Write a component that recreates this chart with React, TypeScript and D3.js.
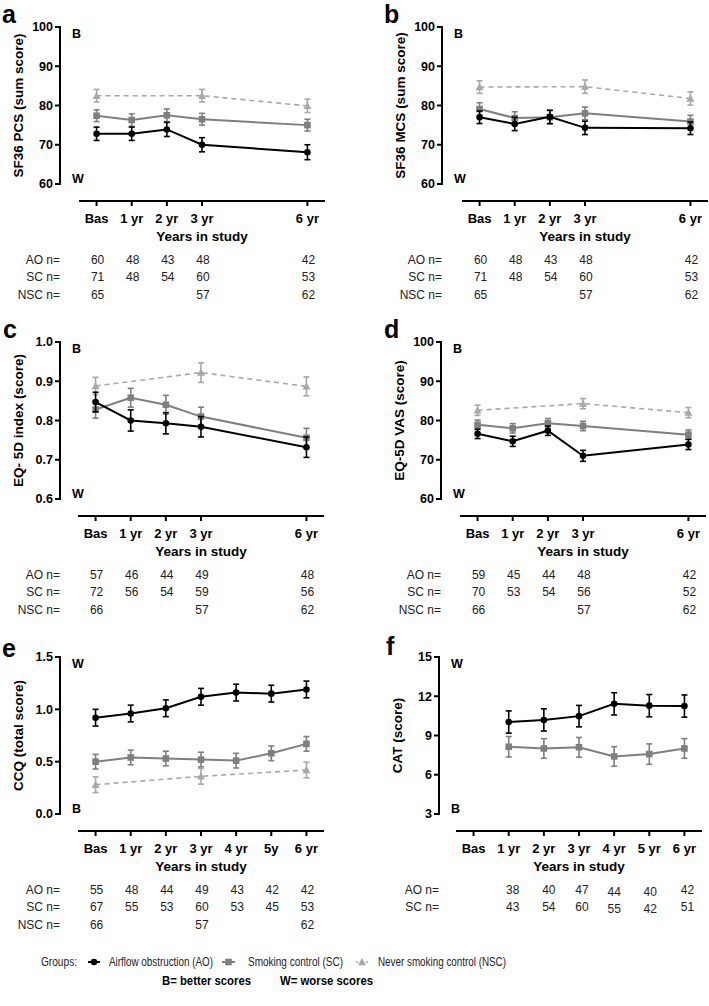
import React from "react";
import * as d3 from "d3";

// ---------- shared categories ----------
const groupNames = ["Airflow obstruction (AO)", "Smoking control (SC)", "Never smoking control (NSC)"];
const groupShort = ["AO", "SC", "NSC"];
const xLabels5 = ["Bas", "1 yr", "2 yr", "3 yr", "6 yr"];
const xYears5 = [0, 1, 2, 3, 6];
const xLabelsCCQ = ["Bas", "1 yr", "2 yr", "3 yr", "4 yr", "5y", "6 yr"];
const xLabelsCAT = ["Bas", "1 yr", "2 yr", "3 yr", "4 yr", "5 yr", "6 yr"];
const xYears7 = [0, 1, 2, 3, 4, 5, 6];
const nscYears = [0, 3, 6];
const catYears = [1, 2, 3, 4, 5, 6];

// ---------- a: SF36 PCS ----------
const pcsAO = [72.8, 72.8, 73.9, 70.0, 68.1];
const pcsAOErr = [1.7, 1.7, 1.8, 1.8, 1.9];
const pcsSC = [77.4, 76.3, 77.5, 76.5, 75.0];
const pcsSCErr = [1.5, 1.6, 1.6, 1.5, 1.5];
const pcsNSC = [82.5, 82.5, 79.9];
const pcsNSCErr = [1.6, 1.6, 1.7];
const pcsTicks = [60, 70, 80, 90, 100];
const pcsNAO = [60, 48, 43, 48, 42];
const pcsNSCn = [71, 48, 54, 60, 53];
const pcsNNSC = [65, 57, 62];

// ---------- b: SF36 MCS ----------
const mcsAO = [77.0, 75.3, 77.1, 74.3, 74.2];
const mcsAOErr = [1.6, 1.7, 1.7, 1.7, 1.6];
const mcsSC = [79.1, 76.8, 77.0, 78.0, 75.9];
const mcsSCErr = [1.6, 1.6, 1.7, 1.6, 1.6];
const mcsNSC = [84.7, 84.8, 81.8];
const mcsNSCErr = [1.6, 1.7, 1.7];
const mcsTicks = [60, 70, 80, 90, 100];
const mcsNAO = [60, 48, 43, 48, 42];
const mcsNSCn = [71, 48, 54, 60, 53];
const mcsNNSC = [65, 57, 62];

// ---------- c: EQ-5D index ----------
const eqiAO = [0.847, 0.8, 0.793, 0.784, 0.732];
const eqiAOErr = [0.025, 0.027, 0.027, 0.026, 0.026];
const eqiSC = [0.828, 0.858, 0.84, 0.81, 0.756];
const eqiSCErr = [0.022, 0.024, 0.024, 0.024, 0.024];
const eqiNSC = [0.888, 0.922, 0.887];
const eqiNSCErr = [0.022, 0.025, 0.024];
const eqiTicks = [0.6, 0.7, 0.8, 0.9, 1.0];
const eqiNAO = [57, 46, 44, 49, 48];
const eqiNSCn = [72, 56, 54, 59, 56];
const eqiNNSC = [66, 57, 62];

// ---------- d: EQ-5D VAS ----------
const vasAO = [76.6, 74.7, 77.4, 71.0, 73.9];
const vasAOErr = [1.2, 1.3, 1.2, 1.4, 1.3];
const vasSC = [78.9, 78.0, 79.3, 78.6, 76.4];
const vasSCErr = [1.2, 1.2, 1.2, 1.2, 1.2];
const vasNSC = [82.6, 84.3, 82.0];
const vasNSCErr = [1.3, 1.3, 1.3];
const vasTicks = [60, 70, 80, 90, 100];
const vasNAO = [59, 45, 44, 48, 42];
const vasNSCn = [70, 53, 54, 56, 52];
const vasNNSC = [66, 57, 62];

// ---------- e: CCQ ----------
const ccqAO = [0.92, 0.96, 1.01, 1.12, 1.16, 1.15, 1.19];
const ccqAOErr = [0.08, 0.08, 0.08, 0.08, 0.08, 0.08, 0.08];
const ccqSC = [0.5, 0.54, 0.53, 0.52, 0.51, 0.58, 0.67];
const ccqSCErr = [0.07, 0.07, 0.07, 0.07, 0.07, 0.07, 0.07];
const ccqNSC = [0.28, 0.36, 0.42];
const ccqNSCErr = [0.075, 0.075, 0.075];
const ccqTicks = [0.0, 0.5, 1.0, 1.5];
const ccqNAO = [55, 48, 44, 49, 43, 42, 42];
const ccqNSCn = [67, 55, 53, 60, 53, 45, 53];
const ccqNNSC = [66, 57, 62];

// ---------- f: CAT ----------
const catAO = [10.03, 10.19, 10.48, 11.42, 11.28, 11.25];
const catAOErr = [0.85, 0.85, 0.82, 0.85, 0.85, 0.85];
const catSC = [8.14, 8.01, 8.1, 7.4, 7.58, 8.01];
const catSCErr = [0.78, 0.75, 0.75, 0.75, 0.78, 0.75];
const catTicks = [3, 6, 9, 12, 15];
const catNAO = [38, 40, 47, 44, 40, 42];
const catNSCn = [43, 54, 60, 55, 42, 51];

// ---------- styles ----------
const FONT = "'Liberation Sans', Arial, Helvetica, sans-serif";
const COL = ["#000000", "#7f7f7f", "#a8a8a8"];

type Series = { years: number[]; vals: number[]; errs: number[]; n?: number[] };
type PanelCfg = {
  letter: string;
  title: string;
  yDomain: [number, number];
  yTicks: number[];
  yFmt: (v: number) => string;
  xLabels: string[];
  xYears: number[];
  series: (Series | null)[];
  topLabel: string;
  bottomLabel: string;
  ox: number;
  top: number;
  axX0: number;
  letterX: number;
  letterY: number;
  nDx?: number[];
  nDy?: number[];
};

const fmtInt = (v: number) => String(v);
const fmt1 = d3.format(".1f");

const panels: PanelCfg[] = [
  {
    letter: "a", title: "SF36 PCS (sum score)", yDomain: [60, 100], yTicks: pcsTicks, yFmt: fmtInt,
    xLabels: xLabels5, xYears: xYears5,
    series: [
      { years: xYears5, vals: pcsAO, errs: pcsAOErr, n: pcsNAO },
      { years: xYears5, vals: pcsSC, errs: pcsSCErr, n: pcsNSCn },
      { years: nscYears, vals: pcsNSC, errs: pcsNSCErr, n: pcsNNSC },
    ],
    topLabel: "B", bottomLabel: "W", ox: 60, top: 27, axX0: 79, letterX: 2, letterY: 23,
  },
  {
    letter: "b", title: "SF36 MCS (sum score)", yDomain: [60, 100], yTicks: mcsTicks, yFmt: fmtInt,
    xLabels: xLabels5, xYears: xYears5,
    series: [
      { years: xYears5, vals: mcsAO, errs: mcsAOErr, n: mcsNAO },
      { years: xYears5, vals: mcsSC, errs: mcsSCErr, n: mcsNSCn },
      { years: nscYears, vals: mcsNSC, errs: mcsNSCErr, n: mcsNNSC },
    ],
    topLabel: "B", bottomLabel: "W", ox: 442, top: 27, axX0: 462, letterX: 384, letterY: 23,
  },
  {
    letter: "c", title: "EQ- 5D index (score)", yDomain: [0.6, 1.0], yTicks: eqiTicks, yFmt: fmt1,
    xLabels: xLabels5, xYears: xYears5,
    series: [
      { years: xYears5, vals: eqiAO, errs: eqiAOErr, n: eqiNAO },
      { years: xYears5, vals: eqiSC, errs: eqiSCErr, n: eqiNSCn },
      { years: nscYears, vals: eqiNSC, errs: eqiNSCErr, n: eqiNNSC },
    ],
    topLabel: "B", bottomLabel: "W", ox: 60, top: 342, axX0: 78, letterX: 3, letterY: 338,
  },
  {
    letter: "d", title: "EQ-5D VAS (score)", yDomain: [60, 100], yTicks: vasTicks, yFmt: fmtInt,
    xLabels: xLabels5, xYears: xYears5,
    series: [
      { years: xYears5, vals: vasAO, errs: vasAOErr, n: vasNAO },
      { years: xYears5, vals: vasSC, errs: vasSCErr, n: vasNSCn },
      { years: nscYears, vals: vasNSC, errs: vasNSCErr, n: vasNNSC },
    ],
    topLabel: "B", bottomLabel: "W", ox: 441, top: 342, axX0: 460, letterX: 384, letterY: 338,
  },
  {
    letter: "e", title: "CCQ (total score)", yDomain: [0, 1.5], yTicks: ccqTicks, yFmt: fmt1,
    xLabels: xLabelsCCQ, xYears: xYears7,
    series: [
      { years: xYears7, vals: ccqAO, errs: ccqAOErr, n: ccqNAO },
      { years: xYears7, vals: ccqSC, errs: ccqSCErr, n: ccqNSCn },
      { years: nscYears, vals: ccqNSC, errs: ccqNSCErr, n: ccqNNSC },
    ],
    topLabel: "W", bottomLabel: "B", ox: 60, top: 657, axX0: 78, letterX: 2, letterY: 657,
  },
  {
    letter: "f", title: "CAT (score)", yDomain: [3, 15], yTicks: catTicks, yFmt: fmtInt,
    xLabels: xLabelsCAT, xYears: xYears7,
    series: [
      { years: catYears, vals: catAO, errs: catAOErr, n: catNAO },
      { years: catYears, vals: catSC, errs: catSCErr, n: catNSCn },
      null,
    ],
    topLabel: "W", bottomLabel: "B", ox: 439, top: 657, axX0: 456, letterX: 386, letterY: 655,
    nDx: [4, 5, 3, 0, 1, 3], nDy: [0, 0, 0, 2, 2, 0],
  },
];

const PLOT_H = 157;
const AX_W = 246;

function Marker({ g, x, y }: { g: number; x: number; y: number }) {
  if (g === 0) return <circle cx={x} cy={y} r={3.3} fill={COL[0]} />;
  if (g === 1) return <rect x={x - 3.3} y={y - 3.3} width={6.6} height={6.6} fill={COL[1]} />;
  const s = 4;
  return (
    <path
      d={`M${x},${y - s}L${x + s},${y + s * 0.8}L${x - s},${y + s * 0.8}Z`}
      fill={COL[2]}
    />
  );
}

function Panel({ p }: { p: PanelCfg }) {
  const bottom = p.top + PLOT_H;
  const axY = bottom + 17;
  const y = d3.scaleLinear().domain(p.yDomain).range([bottom, p.top]);
  const x = d3.scaleLinear().domain([-0.5, 6.5]).range([p.axX0, p.axX0 + AX_W]);
  const line = d3
    .line<[number, number]>()
    .x((d) => x(d[0]))
    .y((d) => y(d[1]));
  const order = [2, 1, 0];
  const rowY = [axY + 63, axY + 80, axY + 98];
  return (
    <g fontFamily={FONT}>
      <text x={p.letterX} y={p.letterY} fontSize={25} fontWeight="bold">
        {p.letter}
      </text>
      {/* y axis */}
      <line x1={p.ox} x2={p.ox} y1={p.top - 1} y2={bottom + 1} stroke="#000" strokeWidth={2} />
      {p.yTicks.map((t) => (
        <g key={t}>
          <line x1={p.ox - 5} x2={p.ox} y1={y(t)} y2={y(t)} stroke="#000" strokeWidth={2} />
          <text
            x={p.ox - 7}
            y={y(t)}
            dy="0.35em"
            textAnchor="end"
            fontSize={12.5}
            fontWeight="bold"
          >
            {p.yFmt(t)}
          </text>
        </g>
      ))}
      <text
        transform={`translate(${p.ox - 37},${(p.top + bottom) / 2}) rotate(-90)`}
        textAnchor="middle"
        fontSize={13.5}
        fontWeight="bold"
      >
        {p.title}
      </text>
      <text x={p.ox + 12} y={p.top + 11} fontSize={12.5} fontWeight="bold">
        {p.topLabel}
      </text>
      <text x={p.ox + 12} y={bottom - 1} fontSize={12.5} fontWeight="bold">
        {p.bottomLabel}
      </text>
      {/* x axis */}
      <line x1={x(-0.5)} x2={x(6.5)} y1={axY} y2={axY} stroke="#000" strokeWidth={2} />
      {p.xYears.map((yr, i) => (
        <g key={yr}>
          <line x1={x(yr)} x2={x(yr)} y1={axY} y2={axY + 5} stroke="#000" strokeWidth={2} />
          <text x={x(yr)} y={axY + 22} textAnchor="middle" fontSize={13} fontWeight="bold">
            {p.xLabels[i]}
          </text>
        </g>
      ))}
      <text x={x(3)} y={axY + 40} textAnchor="middle" fontSize={13.5} fontWeight="bold">
        Years in study
      </text>
      {/* series */}
      {order.map((g) => {
        const s = p.series[g];
        if (!s) return null;
        const pts = s.years.map((yr, i) => [yr, s.vals[i]] as [number, number]);
        return (
          <g key={g}>
            <path
              d={line(pts) || ""}
              fill="none"
              stroke={COL[g]}
              strokeWidth={g === 2 ? 1.6 : 2}
              strokeDasharray={g === 2 ? "5,4" : undefined}
            />
            {s.years.map((yr, i) => {
              const cx = x(yr);
              const y1 = y(s.vals[i] + s.errs[i]);
              const y2 = y(s.vals[i] - s.errs[i]);
              return (
                <g key={yr} stroke={COL[g]} strokeWidth={1.6}>
                  <line x1={cx} x2={cx} y1={y1} y2={y2} />
                  <line x1={cx - 3} x2={cx + 3} y1={y1} y2={y1} />
                  <line x1={cx - 3} x2={cx + 3} y1={y2} y2={y2} />
                </g>
              );
            })}
            {s.years.map((yr, i) => (
              <Marker key={"m" + yr} g={g} x={x(yr)} y={y(s.vals[i])} />
            ))}
          </g>
        );
      })}
      {/* n rows */}
      {p.series.map((s, g) =>
        s ? (
          <g key={"n" + g} fontSize={12} fill="#222">
            <text x={p.ox} y={rowY[g]} textAnchor="end">
              {groupShort[g] + " n="}
            </text>
            {s.years.map((yr, i) => (
              <text
                key={yr}
                x={x(yr) + (p.nDx ? p.nDx[i] : 1)}
                y={rowY[g] + (p.nDy ? p.nDy[i] : 0)}
                textAnchor="middle"
              >
                {s.n ? s.n[i] : ""}
              </text>
            ))}
          </g>
        ) : null
      )}
    </g>
  );
}

function Legend() {
  const ly = 966;
  const items = [
    { x0: 88, x1: 100, tx: 109, tw: 104 },
    { x0: 222, x1: 235, tx: 248, tw: 95 },
    { x0: 356, x1: 368, tx: 378, tw: 128 },
  ];
  return (
    <g fontFamily={FONT} fontSize={12} fill="#222">
      <text x={41} y={ly} textLength={36} lengthAdjust="spacingAndGlyphs">Groups:</text>
      {items.map((it, g) => (
        <g key={g}>
          <line
            x1={it.x0}
            x2={it.x1}
            y1={ly - 4}
            y2={ly - 4}
            stroke={COL[g]}
            strokeWidth={g === 2 ? 1.5 : 2}
            strokeDasharray={g === 2 ? "2,3" : undefined}
          />
          <Marker g={g} x={(it.x0 + it.x1) / 2} y={ly - 4} />
          <text x={it.tx} y={ly} textLength={it.tw} lengthAdjust="spacingAndGlyphs">
            {groupNames[g]}
          </text>
        </g>
      ))}
      <text x={162} y={985} fontSize={13} fontWeight="bold" fill="#000" textLength={89} lengthAdjust="spacingAndGlyphs">
        B= better scores
      </text>
      <text x={280} y={985} fontSize={13} fontWeight="bold" fill="#000" textLength={93} lengthAdjust="spacingAndGlyphs">
        W= worse scores
      </text>
    </g>
  );
}

export default function App() {
  return (
    <svg width={709} height={1006} style={{ display: "block", position: "absolute", left: 0, top: 0, background: "#fff" }}>
      <rect width={709} height={1006} fill="#fff" />
      {panels.map((p) => (
        <Panel key={p.letter} p={p} />
      ))}
      <Legend />
    </svg>
  );
}
